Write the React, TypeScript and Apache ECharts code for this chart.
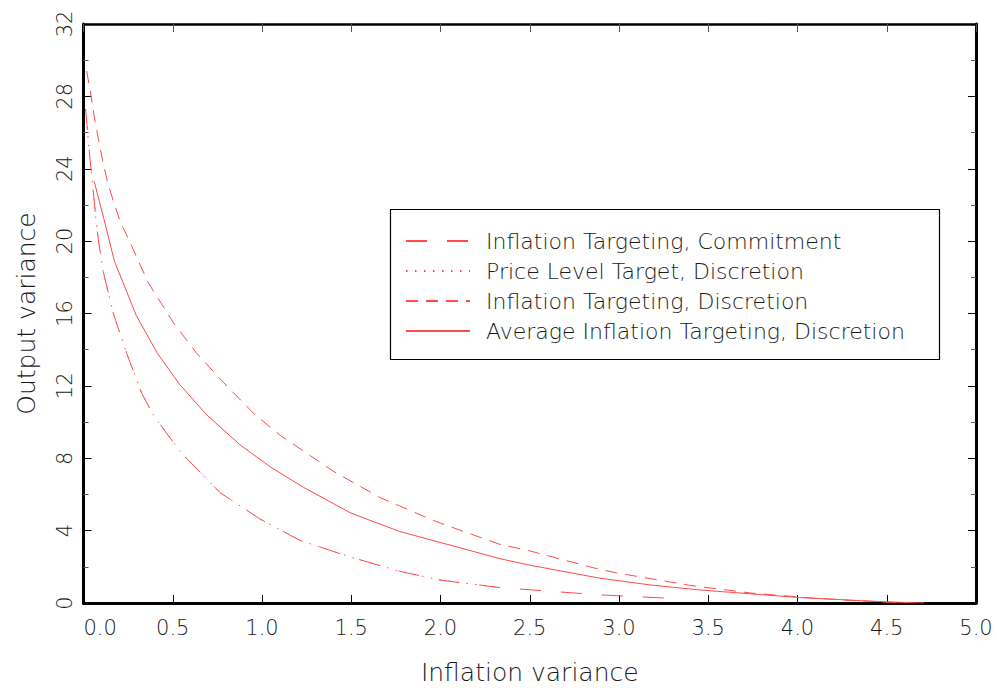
import React, { useEffect, useRef } from "react";
import * as echarts from "echarts";

const seriesNames = [
  "Inflation Targeting, Commitment",
  "Price Level Target, Discretion",
  "Inflation Targeting, Discretion",
  "Average Inflation Targeting, Discretion",
];

// Inflation Targeting, Commitment (long dash)
const commitX = [0.012, 0.03, 0.05, 0.07, 0.083, 0.111, 0.167, 0.242, 0.326, 0.391, 0.54, 0.765, 0.989, 1.213, 1.492, 1.772, 1.997, 2.333, 2.501, 2.893, 3.266];
const commitY = [27.3, 25.2, 23.2, 21.2, 20.1, 18.3, 16.0, 13.8, 11.6, 10.4, 8.37, 6.1, 4.64, 3.46, 2.55, 1.75, 1.27, 0.85, 0.73, 0.45, 0.27];

// Price Level Target, Discretion (dotted)
const pltX = [0.012, 0.03, 0.05, 0.07, 0.083, 0.111, 0.167, 0.242, 0.326, 0.391, 0.54, 0.765, 0.989, 1.213, 1.492, 1.772, 1.997, 2.333];
const pltY = [27.3, 25.2, 23.2, 21.2, 20.1, 18.3, 16.0, 13.8, 11.6, 10.4, 8.37, 6.1, 4.64, 3.46, 2.55, 1.75, 1.27, 0.85];

// Inflation Targeting, Discretion (short dash)
const itdX = [0.018, 0.046, 0.065, 0.108, 0.134, 0.167, 0.209, 0.248, 0.363, 0.503, 0.634, 0.783, 0.961, 1.1, 1.4, 1.66, 1.77, 1.92, 2.0, 2.33, 2.5, 2.89, 3.0, 3.4, 3.74, 4.09, 4.29, 4.5, 4.62];
const itdY = [29.4, 27.8, 26.6, 24.4, 23.3, 22.2, 21.0, 20.2, 17.7, 15.5, 13.8, 12.2, 10.4, 9.28, 7.28, 5.83, 5.37, 4.73, 4.41, 3.25, 2.88, 1.86, 1.64, 0.97, 0.55, 0.27, 0.15, 0.05, 0.01];

// Average Inflation Targeting, Discretion (solid)
const aitX = [0.06, 0.115, 0.173, 0.295, 0.414, 0.537, 0.69, 0.877, 1.05, 1.231, 1.492, 1.586, 1.772, 1.997, 2.333, 2.501, 2.893, 3.173, 3.453, 3.732, 4.012, 4.292, 4.5, 4.71];
const aitY = [23.3, 21.2, 18.9, 15.9, 13.8, 12.1, 10.4, 8.74, 7.5, 6.4, 5.0, 4.64, 3.95, 3.35, 2.45, 2.09, 1.37, 1.0, 0.72, 0.51, 0.3, 0.16, 0.06, 0.0];

const xTickLabels = ["0.0", "0.5", "1.0", "1.5", "2.0", "2.5", "3.0", "3.5", "4.0", "4.5", "5.0"];
const yTickLabels = ["0", "4", "8", "12", "16", "20", "24", "28", "32"];

const FONT = "DejaVu Sans";
const TEXT = "#1a1a1a";
const RED = "#ff4a4a";

function pairs(xs: number[], ys: number[]) {
  return xs.map((x, i) => [x, ys[i]]);
}

export default function App() {
  const ref = useRef<HTMLDivElement>(null);
  useEffect(() => {
    if (!ref.current) return;
    const chart = echarts.init(ref.current, undefined, { renderer: "svg" });
    const frameAxis = {
      lineStyle: { color: "#000", width: 3 },
    };
    const option: any = {
      animation: false,
      backgroundColor: "#ffffff",
      grid: { left: 83.5, right: 21, top: 24, bottom: 80, containLabel: false },
      xAxis: [
        {
          type: "value",
          min: 0,
          max: 5,
          interval: 0.5,
          position: "bottom",
          name: "Inflation variance",
          nameLocation: "middle",
          nameGap: 57,
          nameTextStyle: { fontFamily: FONT, fontSize: 25, color: TEXT, fontWeight: 200 },
          axisLine: { show: true, onZero: false, ...frameAxis },
          axisTick: { show: true, inside: true, length: 8, lineStyle: { color: "#000", width: 1 } },
          axisLabel: {
            show: true,
            margin: 14,
            alignMinLabel: "left",
            fontFamily: FONT,
            fontSize: 21,
            color: TEXT,
            fontWeight: 200,
            formatter: (v: number) => xTickLabels[Math.round(v / 0.5)] ?? "",
          },
          splitLine: { show: false },
        },
        {
          type: "value",
          min: 0,
          max: 5,
          interval: 0.5,
          position: "top",
          axisLine: { show: true, onZero: false, lineStyle: { color: "#000", width: 2.5 } },
          axisTick: { show: true, inside: true, length: 8, lineStyle: { color: "#555", width: 1 } },
          axisLabel: { show: false },
          splitLine: { show: false },
        },
      ],
      yAxis: [
        {
          type: "value",
          min: 0,
          max: 32,
          interval: 4,
          position: "left",
          name: "Output variance",
          nameLocation: "middle",
          nameRotate: 90,
          nameGap: 45,
          nameTextStyle: { fontFamily: FONT, fontSize: 25, color: TEXT, fontWeight: 200 },
          axisLine: { show: true, onZero: false, ...frameAxis },
          axisTick: { show: true, inside: true, length: 8, lineStyle: { color: "#000", width: 1 } },
          minorTick: { show: true, splitNumber: 2, length: 5, lineStyle: { color: "#555", width: 1 } },
          axisLabel: {
            show: true,
            rotate: 90,
            margin: 8,
            fontFamily: FONT,
            fontSize: 21,
            color: TEXT,
            fontWeight: 200,
            formatter: (v: number) => yTickLabels[Math.round(v / 4)] ?? "",
          },
          splitLine: { show: false },
          minorSplitLine: { show: false },
        },
        {
          type: "value",
          min: 0,
          max: 32,
          interval: 4,
          position: "right",
          axisLine: { show: true, onZero: false, ...frameAxis },
          axisTick: { show: true, inside: true, length: 8, lineStyle: { color: "#000", width: 1 } },
          minorTick: { show: true, splitNumber: 2, length: 5, lineStyle: { color: "#555", width: 1 } },
          axisLabel: { show: false },
          splitLine: { show: false },
        },
      ],
      legend: {
        orient: "vertical",
        left: 405,
        top: 230,
        padding: 0,
        itemGap: 8,
        itemWidth: 64,
        itemHeight: 20,
        selectedMode: false,
        data: seriesNames,
        itemStyle: { opacity: 0 },
        textStyle: {
          fontFamily: FONT,
          fontSize: 22,
          lineHeight: 20,
          color: TEXT,
          fontWeight: 200,
          padding: [0, 0, 0, 11],
        },
      },
      graphic: [
        {
          type: "rect",
          shape: { x: 390.5, y: 209.5, width: 549, height: 150 },
          style: { fill: "none", stroke: "#000", lineWidth: 1.2 },
          z: 10,
        },
      ],
      series: [
        {
          name: seriesNames[0],
          type: "line",
          data: pairs(commitX, commitY),
          symbol: "none",
          lineStyle: { color: RED, width: 1, type: [21, 20] },
          itemStyle: { color: RED },
        },
        {
          name: seriesNames[1],
          type: "line",
          data: pairs(pltX, pltY),
          symbol: "none",
          lineStyle: { color: RED, width: 1, type: [1.5, 7.5] },
          itemStyle: { color: RED },
        },
        {
          name: seriesNames[2],
          type: "line",
          data: pairs(itdX, itdY),
          symbol: "none",
          lineStyle: { color: RED, width: 1, type: [12, 8] },
          itemStyle: { color: RED },
        },
        {
          name: seriesNames[3],
          type: "line",
          data: pairs(aitX, aitY),
          symbol: "none",
          lineStyle: { color: RED, width: 1, type: "solid" },
          itemStyle: { color: RED },
        },
      ],
    };
    chart.setOption(option);
    return () => chart.dispose();
  }, []);
  return (
    <div
      ref={ref}
      style={{ position: "fixed", left: 0, top: 0, width: 997, height: 690, background: "#fff" }}
    />
  );
}
